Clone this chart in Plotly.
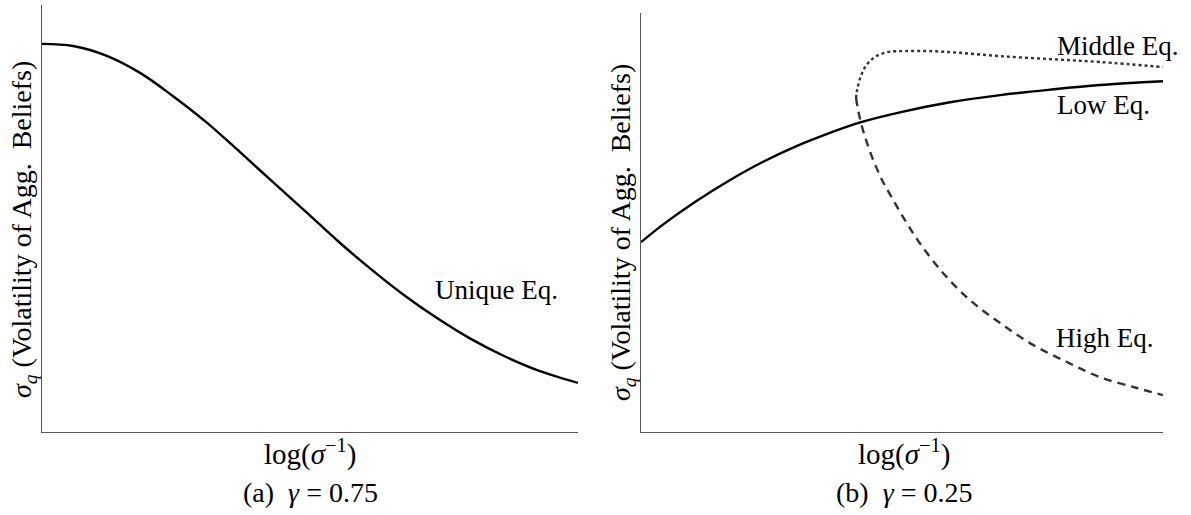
import plotly.graph_objs as go


# 图(a) gamma = 0.75: 唯一均衡
unique_x = [0, 0.058, 0.121, 0.183, 0.244, 0.308, 0.369, 0.431, 0.493, 0.554,
            0.616, 0.677, 0.739, 0.800, 0.862, 0.924, 1.0]
unique_y = [0.909, 0.904, 0.881, 0.841, 0.787, 0.724, 0.656, 0.585, 0.515, 0.445,
            0.379, 0.319, 0.265, 0.218, 0.178, 0.145, 0.115]

# 图(b) gamma = 0.25: 低 / 中 / 高 三个均衡
low_x = [0, 0.042, 0.107, 0.170, 0.234, 0.299, 0.362, 0.420, 0.496, 0.592,
         0.688, 0.784, 0.879, 1.0]
low_y = [0.453, 0.495, 0.552, 0.601, 0.645, 0.683, 0.714, 0.739, 0.763, 0.787,
         0.804, 0.817, 0.828, 0.837]

middle_x = [0.412, 0.414, 0.420, 0.431, 0.448, 0.473, 0.506, 0.554, 0.611, 0.688,
            0.784, 0.879, 1.0]
middle_y = [0.797, 0.816, 0.845, 0.874, 0.895, 0.907, 0.909, 0.909, 0.905, 0.897,
            0.890, 0.883, 0.871]

high_x = [0.412, 0.416, 0.421, 0.431, 0.445, 0.462, 0.483, 0.508, 0.534, 0.579,
          0.630, 0.688, 0.751, 0.816, 0.879, 0.950, 1.0]
high_y = [0.797, 0.768, 0.740, 0.697, 0.649, 0.601, 0.554, 0.501, 0.451, 0.379,
          0.315, 0.260, 0.208, 0.167, 0.131, 0.105, 0.088]

W, H = 1191, 515
FONT = 'Liberation Serif'


def px_x(p):
    return p / W


def px_y(p):
    return 1 - p / H


def axis_style(domain, anchor):
    return dict(
        domain=domain, anchor=anchor, range=[0, 1],
        showline=True, linecolor='#555555', linewidth=1, mirror=False,
        showgrid=False, zeroline=False, showticklabels=False, ticks='',
        fixedrange=True
    )


def curve(x, y, xa, ya, dash='solid', color='black'):
    return go.Scatter(
        x=x, y=y, xaxis=xa, yaxis=ya, mode='lines',
        line=dict(color=color, width=2.4, dash=dash, shape='spline', smoothing=1.0),
        hoverinfo='skip', showlegend=False
    )


def text(x, y, s, size=27, xref='paper', yref='paper', xanchor='center', angle=0):
    return dict(
        x=x, y=y, xref=xref, yref=yref, text=s, showarrow=False,
        xanchor=xanchor, yanchor='middle', textangle=angle,
        font=dict(family=FONT, size=size, color='black')
    )


y_title = '<i>σ</i><sub><i>q</i></sub>&nbsp;(Volatility of Agg.&nbsp; Beliefs)'
x_title = 'log(<i>σ</i><sup>−1</sup>)'

figure = go.Figure(
    data=[
        curve(unique_x, unique_y, 'x', 'y'),
        curve(low_x, low_y, 'x2', 'y2'),
        curve(middle_x, middle_y, 'x2', 'y2', dash='dot', color='#333333'),
        curve(high_x, high_y, 'x2', 'y2', dash='8px,6px', color='#333333'),
    ],
    layout=go.Layout(
        width=W, height=H,
        margin=go.layout.Margin(l=0, r=0, t=0, b=0),
        paper_bgcolor='white',
        plot_bgcolor='white',
        showlegend=False,
        xaxis=axis_style([px_x(42), px_x(578)], 'y'),
        yaxis=axis_style([px_y(432), px_y(5)], 'x'),
        xaxis2=axis_style([px_x(641), px_x(1163)], 'y2'),
        yaxis2=axis_style([px_y(432), px_y(13)], 'x2'),
        annotations=[
            # 曲线标签
            text(0.729, 0.333, 'Unique Eq.', xref='x', yref='y', xanchor='left'),
            text(0.793, 0.921, 'Middle Eq.', xref='x2', yref='y2', xanchor='left'),
            text(0.793, 0.780, 'Low Eq.', xref='x2', yref='y2', xanchor='left'),
            text(0.791, 0.224, 'High Eq.', xref='x2', yref='y2', xanchor='left'),
            # 坐标轴标题
            text(px_x(23), px_y(230), y_title, size=28, angle=-90),
            text(px_x(622), px_y(233), y_title, size=28, angle=-90),
            text(px_x(310), px_y(452), x_title, size=29),
            text(px_x(904), px_y(452), x_title, size=29),
            # 子图标题
            text(px_x(310), px_y(492), '(a)&nbsp; <i>γ</i>&nbsp;=&nbsp;0.75', size=28),
            text(px_x(904), px_y(492), '(b)&nbsp; <i>γ</i>&nbsp;=&nbsp;0.25', size=28),
        ]
    )
)

# 去掉页面 body 默认的 8px 边距, 隐藏工具栏
figure.write_html('out.html', config={'displayModeBar': False},
                  post_script="document.body.style.margin='0';")
